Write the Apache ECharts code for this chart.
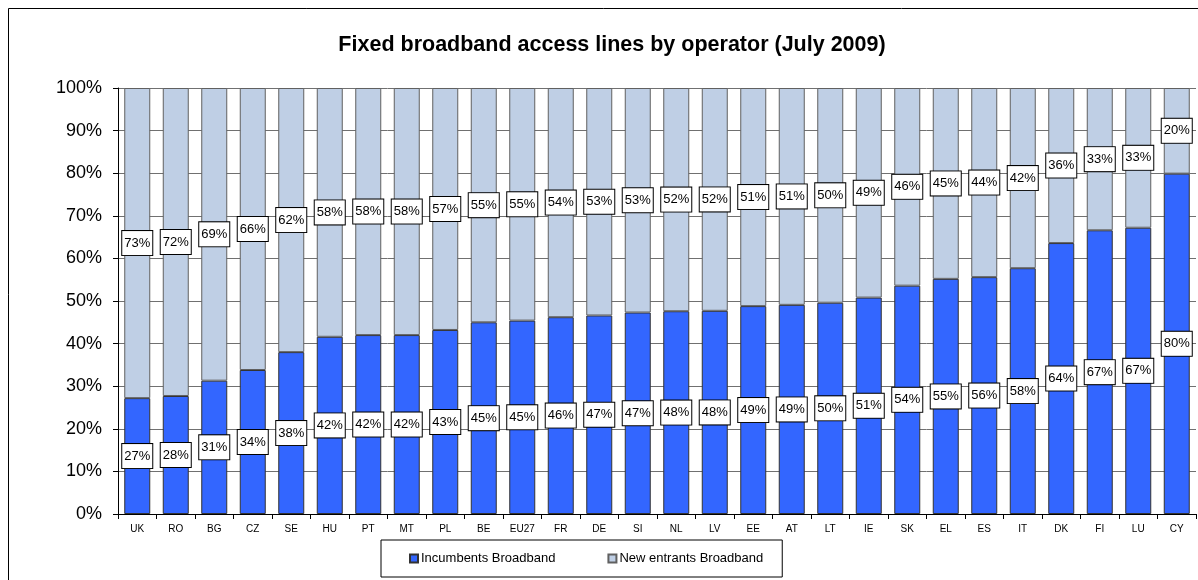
<!DOCTYPE html>
<html><head><meta charset="utf-8">
<script src="https://cdn.jsdelivr.net/npm/echarts@6/dist/echarts.min.js"></script>
<style>html,body{margin:0;padding:0;background:#fff}#c{width:1198px;height:580px}</style>
</head><body><div id="c"></div>
<script>
const categories = ['UK','RO','BG','CZ','SE','HU','PT','MT','PL','BE','EU27','FR','DE','SI','NL','LV','EE','AT','LT','IE','SK','EL','ES','IT','DK','FI','LU','CY'];
const incumbents = [27.2,27.7,31.3,33.8,38.0,41.6,42.0,42.0,43.2,45.0,45.4,46.2,46.6,47.3,47.6,47.7,48.8,49.1,49.6,50.8,53.6,55.2,55.6,57.7,63.6,66.6,67.2,79.9];
const newEntrants = [72.8,72.3,68.7,66.2,62.0,58.4,58.0,58.0,56.8,55.0,54.6,53.8,53.4,52.7,52.4,52.3,51.2,50.9,50.4,49.2,46.4,44.8,44.4,42.3,36.4,33.4,32.8,20.1];
const yTicks = [0,10,20,30,40,50,60,70,80,90,100];

const chart = echarts.init(document.getElementById('c'), null, {renderer:'canvas'});
const labelStyle = {
  show: true, position: 'inside', color: '#000', fontFamily: 'Liberation Sans, Arial', fontSize: 13,
  backgroundColor: '#fff', borderColor: '#000', borderWidth: 1, padding: [6,2,5,2],
  formatter: p => Math.round(p.value) + '%'
};
chart.setOption({
  animation: false,
  textStyle: {fontFamily: 'Liberation Sans, Arial'},
  title: {
    text: 'Fixed broadband access lines by operator (July 2009)',
    left: 607, top: 29, textAlign: 'center',
    textStyle: {fontSize: 21.5, fontWeight: 'bold', color: '#000', fontFamily: 'Liberation Sans, Arial'}
  },
  graphic: [{type:'rect', shape:{x:8.5,y:8.5,width:1200,height:600}, style:{fill:'none', stroke:'#000', lineWidth:1}, silent:true}],
  legend: {
    left: 381, top: 540, itemGap: 52, padding: [12,19,12,28],
    borderColor: '#000', borderWidth: 1,
    itemWidth: 8, itemHeight: 8, icon: 'rect',
    textStyle: {fontSize: 13, color: '#000', padding: [0,0,0,-2]},
    data: ['Incumbents Broadband','New entrants Broadband']
  },
  grid: {left: 118, right: 2, top: 88, bottom: 66},
  xAxis: {
    type: 'category', data: categories,
    axisLine: {lineStyle: {color: '#000'}},
    axisTick: {show: true, lineStyle: {color: '#000'}, length: 5},
    axisLabel: {color: '#000', fontSize: 10, margin: 10}
  },
  yAxis: {
    type: 'value', min: 0, max: 100, interval: 10,
    axisLine: {show: true, lineStyle: {color: '#000'}},
    axisTick: {show: true, lineStyle: {color: '#000'}, length: 5},
    axisLabel: {color: '#000', fontSize: 18, margin: 16, formatter: v => yTicks.includes(v) ? v + '%' : ''},
    splitLine: {lineStyle: {color: '#707070', width: 1}}
  },
  series: [
    {name: 'Incumbents Broadband', type: 'bar', stack: 's', data: incumbents, barWidth: 26,
     itemStyle: {color: '#3366FF', borderColor: '#333', borderWidth: 1}, label: labelStyle},
    {name: 'New entrants Broadband', type: 'bar', stack: 's', data: newEntrants, barWidth: 26,
     itemStyle: {color: '#BFCFE5', borderColor: '#606060', borderWidth: 1}, label: labelStyle}
  ]
});
</script></body></html>
